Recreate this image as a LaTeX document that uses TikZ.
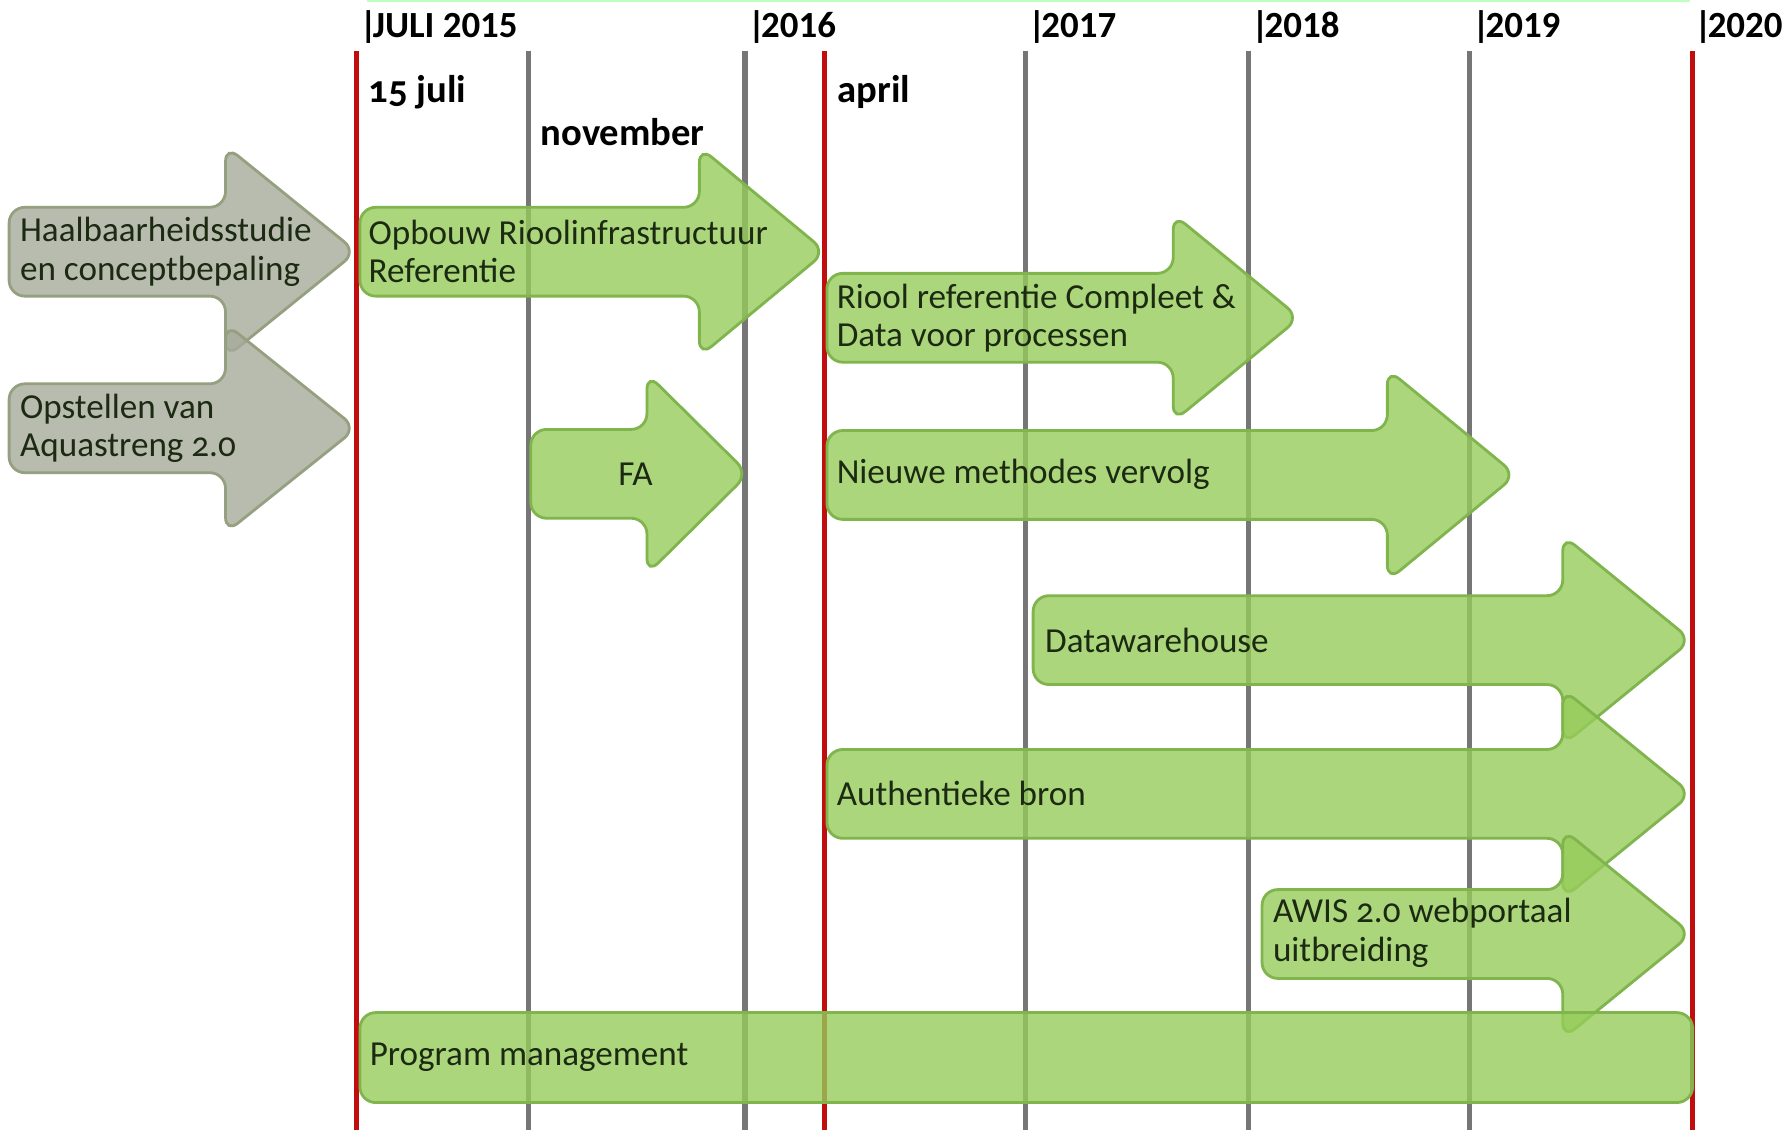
\documentclass[tikz,border=0pt]{standalone}
\usepackage{fontspec}
\setmainfont{Carlito}[Numbers=OldStyle]
\newfontfamily\hdr{Carlito}[Numbers=Lining]
\definecolor{blad}{RGB}{150,204,90}
\definecolor{bladrand}{RGB}{128,180,76}
\definecolor{steen}{RGB}{166,171,154}
\definecolor{steenrand}{RGB}{148,160,128}
\definecolor{lijnrood}{RGB}{192,14,14}
\definecolor{lijngrijs}{RGB}{118,118,118}
\definecolor{tekst}{RGB}{28,42,18}
\newcommand{\pijl}[6]{%
  \filldraw[#1] (#2,#5-39) -- (#3,#5-39) -- (#3,#5-#6) -- (#4+5,#5) -- (#3,#5+#6)
    -- (#3,#5+39) -- (#2,#5+39) -- cycle;}
\begin{document}
\begin{tikzpicture}[x=0.0114cm,y=-0.0114cm,
   fase/.style={draw=bladrand,fill=blad,fill opacity=0.8,line width=0.8pt,rounded corners=4.5pt},
   voor/.style={fase,draw=steenrand,fill=steen},
   txt/.style={anchor=west,align=left,inner sep=0pt,text=tekst,font=\fontsize{10}{10.9}\selectfont},
   jaar/.style={anchor=base west,inner sep=0pt,font=\hdr\bfseries\fontsize{10.5}{12}\selectfont},
   mnd/.style={anchor=base west,inner sep=0pt,font=\bfseries\fontsize{11}{12}\selectfont}]
   \useasboundingbox (0,0) rectangle (1568,992);
   \draw[green!25,line width=0.6pt] (322,1) -- (1484,1);
   \draw[lijngrijs,line width=1.5pt] (464,45) -- (464,992);
   \draw[lijngrijs,line width=1.5pt] (654,45) -- (654,992);
   \draw[lijngrijs,line width=1.5pt] (900,45) -- (900,992);
   \draw[lijngrijs,line width=1.5pt] (1096,45) -- (1096,992);
   \draw[lijngrijs,line width=1.5pt] (1290,45) -- (1290,992);
   \draw[lijnrood,line width=1.5pt] (313,45) -- (313,992);
   \draw[lijnrood,line width=1.5pt] (724,45) -- (724,992);
   \draw[lijnrood,line width=1.5pt] (1486,45) -- (1486,992);
   \draw (315,33) node[jaar](j2015){|\kern-1.2pt JULI 2015};
   \draw (656,33) node[jaar](j2016){|\kern-1.2pt 2016};
   \draw (902,33) node[jaar](j2017){|\kern-1.2pt 2017};
   \draw (1098,33) node[jaar](j2018){|\kern-1.2pt 2018};
   \draw (1292,33) node[jaar](j2019){|\kern-1.2pt 2019};
   \draw (1487,33) node[jaar](j2020){|\kern-1.2pt 2020};
   \draw (323,90) node[mnd](juli){15 juli};
   \draw (474,128) node[mnd](nov){november};
   \draw (735,90) node[mnd](april){april};
   \pijl{voor}{8}{198}{308}{221}{93}
   \pijl{voor}{8}{198}{308}{376}{92}
   \pijl{fase}{316}{614}{720}{221}{92}
   \pijl{fase}{726}{1030}{1136}{279}{91}
   \pijl{fase}{466}{568}{652}{416}{88}
   \pijl{fase}{726}{1218}{1326}{417}{93}
   \pijl{fase}{907}{1372}{1480}{562}{92}
   \pijl{fase}{726}{1372}{1480}{697}{92}
   \pijl{fase}{1108}{1372}{1480}{820}{92}
   \filldraw[fase] (316,889) rectangle (1486,968);
   \draw (17,221) node[txt](haalbaar){Haalbaarheidsstudie\\en conceptbepaling};
   \draw (17,376) node[txt](opstellen){Opstellen van\\Aquastreng 2.0};
   \draw (323,221) node[txt](opbouw){Opbouw Rioolinfrastructuur\\Referentie};
   \draw (734,279) node[txt](riool){Riool referentie Compleet \&\\Data voor processen};
   \draw (558,416) node[txt,anchor=center](fa){FA};
   \draw (734,416) node[txt](nieuwe){Nieuwe methodes vervolg};
   \draw (917,562) node[txt](dwh){Datawarehouse};
   \draw (734,697) node[txt](bron){Authentieke bron};
   \draw (1117,819) node[txt](awis){AWIS 2.0 webportaal\\uitbreiding};
   \draw (324,928) node[txt](pm){Program management};
\end{tikzpicture}
\end{document}
